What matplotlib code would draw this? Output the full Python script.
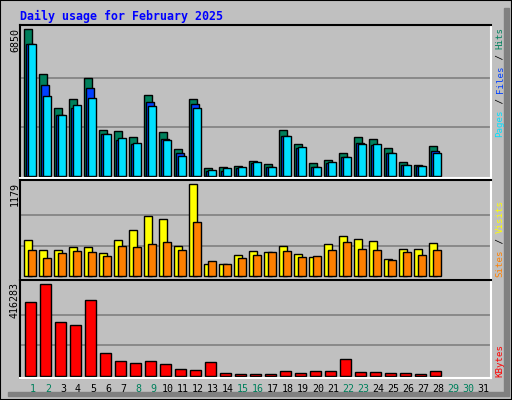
import matplotlib
matplotlib.use("Agg")
import matplotlib.pyplot as plt
from matplotlib.patches import Rectangle
import numpy as np

days = list(range(1, 32))
hits  = [6850,4756,3174,3593,4570,2150,2103,1824,3779,2057,1266,3593,382,428,475,707,568,2150,1498,614,754,1080,1824,1731,1312,661,521,1405]
files = [6166,4244,2848,3174,4104,1964,1685,1498,3453,1731,1080,3360,242,242,382,614,428,1871,1312,428,614,894,1545,1452,1080,521,475,1173]
pages = [6166,3750,2848,3313,3639,1964,1778,1545,3267,1685,940,3174,289,382,428,661,428,1871,1359,428,661,894,1498,1498,1080,521,475,1080]
visits = [461,333,333,372,372,295,461,590,769,730,384,1179,154,154,269,320,308,384,282,243,410,513,474,449,218,346,346,423]
sites  = [333,231,295,320,308,256,384,372,410,436,333,692,192,154,231,269,308,320,243,256,333,436,346,333,205,308,269,333]
kbytes = [334000,416283,242400,228700,343000,105000,68600,59500,68600,54900,32000,27400,64000,13700,9100,9100,9100,22900,13700,22900,22900,77800,18300,18300,13700,13700,9100,22900]
weekend = {1,2,8,9,15,16,22,23,29,30}

W, H = 512, 400
BG = "#C0C0C0"
fig = plt.figure(figsize=(W/100, H/100), dpi=100, facecolor=BG)
MONO = "DejaVu Sans Mono"

def fx(px): return px / W
def fy(py): return 1 - py / H

# outer border and shadow
fig.patches.append(Rectangle((0, 0), 1, 1, transform=fig.transFigure, fill=False, ec="black", lw=1.5))
fig.patches.append(Rectangle((fx(504), fy(396)), fx(5), fy(8) - fy(396), transform=fig.transFigure, color="#808080"))
fig.patches.append(Rectangle((fx(8), fy(396)), fx(504) - fx(8), fy(392) - fy(396), transform=fig.transFigure, color="#808080"))

XL = ((20 - 31) / 15 + 1, (491 - 31) / 15 + 1)

def panel(top, bot, ylim, maxv):
    ax = fig.add_axes([fx(20), fy(bot), fx(491) - fx(20), fy(top) - fy(bot)])
    ax.set_facecolor(BG)
    ax.set_xlim(*XL)
    ax.set_ylim(*ylim)
    for g in (maxv / 3, 2 * maxv / 3):
        ax.axhline(g, color="#808080", lw=1.2, zorder=0)
    ax.set_xticks([]); ax.set_yticks([])
    for s in ("left", "top"):
        ax.spines[s].set_color("black")
    for s in ("right", "bottom"):
        ax.spines[s].set_color("white")
    for s in ax.spines.values():
        s.set_linewidth(1.5)
    return ax

x = np.arange(1, len(hits) + 1)
kw = dict(align="edge", edgecolor="black", linewidth=1)

ax1 = panel(25, 178, (-70, 7036), 6850)
ax1.bar(x - 0.45, hits, 0.5, color="#00805C", **kw)
ax1.bar(x - 0.31, files, 0.5, color="#0040FF", **kw)
ax1.bar(x - 0.2, pages, 0.5, color="#00E0FF", **kw)

ax2 = panel(180, 280, (-47, 1234), 1179)
ax2.bar(x - 0.47, visits, 0.56, color="#FFFF00", **kw)
ax2.bar(x - 0.2, sites, 0.5, color="#FF8000", **kw)

ax3 = panel(280, 378, (-11000, 436000), 416283)
ax3.bar(x - 0.4, kbytes, 0.7, color="#FF0000", **kw)

# title
fig.text(fx(20), fy(16), "Daily usage for February 2025", color="#0000FF",
         family=MONO, weight="bold", fontsize=8.4, va="center", ha="left")

# left max labels
for txt, ytop in (("6850", 28), ("1179", 182), ("416283", 282)):
    fig.text(fx(15), fy(ytop), txt, rotation=90, family=MONO, fontsize=7.2,
             ha="center", va="top")

# right labels (bottom to top)
FS = 6.6
CH = FS * 0.602 * 100 / 72
def right_label(parts, ybot):
    y = ybot
    for t, c in parts:
        fig.text(fx(500), fy(y), t, rotation=90, family=MONO, fontsize=FS,
                 color=c, ha="center", va="bottom")
        y -= CH * len(t)

right_label([("Pages", "#00E0FF"), (" / ", "black"), ("Files", "#0040FF"),
             (" / ", "black"), ("Hits", "#00805C")], 137)
right_label([("Sites", "#FF8000"), (" / ", "black"), ("Visits", "#FFFF00")], 277)
right_label([("KBytes", "#FF0000")], 377)

# day labels
for d in days:
    px = 31 + 15 * (d - 1) + 2
    fig.text(fx(px), fy(389), str(d), family=MONO, fontsize=7.2, ha="center", va="center",
             color="#00805C" if d in weekend else "black")

fig.savefig("out.png", dpi=100, facecolor=BG)
